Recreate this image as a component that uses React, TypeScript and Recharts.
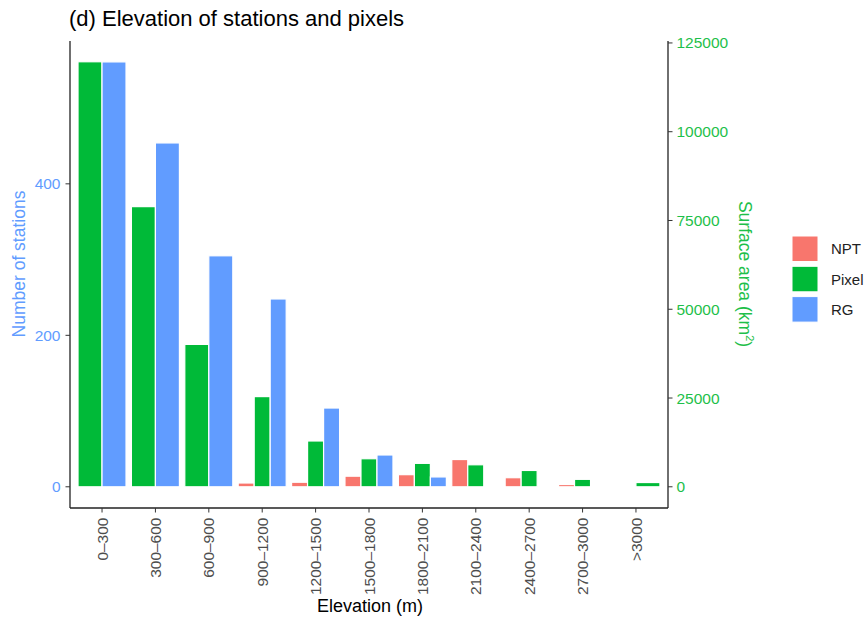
import React from 'react';
import { BarChart, Bar, XAxis, YAxis } from 'recharts';

const categories = [
  '0–300', '300–600', '600–900', '900–1200', '1200–1500', '1500–1800',
  '1800–2100', '2100–2400', '2400–2700', '2700–3000', '>3000',
];
// number of stations (left axis); null = group absent in that elevation band
const nptStations = [null, null, null, 5, 6, 14, 16, 36, 12, 3, 0];
const rgStations = [561, 454, 305, 248, 104, 42, 13, 0, 0, 0, null];
// surface area of pixels in km2 (right axis)
const pixelArea = [119700, 78900, 40100, 25400, 12900, 7900, 6600, 6200, 4600, 2100, 1200];

const stationTicks = [0, 200, 400];
const areaTicks = [0, 25000, 50000, 75000, 100000, 125000];
const stationDomain = [-28, 588.6];
const areaDomain = [-28 * 213.3, 588.6 * 213.3];

const seriesKeys = ['NPT', 'Pixel', 'RG'];
const colors: Record<string, string> = { NPT: '#F8766D', Pixel: '#00BA38', RG: '#619CFF' };
const font = '"Liberation Sans", Arial, Helvetica, sans-serif';

const data = categories.map((cat, i) => ({
  cat,
  NPT: nptStations[i],
  Pixel: pixelArea[i],
  RG: rgStations[i],
}));

// ggplot style dodge: the bars present in a band share its whole width
const dodgeShape = (idx: number) => (props: any) => {
  const { x, y, width, height, payload } = props;
  const present = seriesKeys.filter((k) => payload[k] !== null && payload[k] !== undefined);
  const n = present.length;
  const j = present.indexOf(seriesKeys[idx]);
  const left = x - idx * width;
  const w = (width * 3) / n;
  return (
    <rect
      x={left + j * w}
      y={y}
      width={w}
      height={Math.max(height, 0)}
      fill={colors[seriesKeys[idx]]}
      stroke="#fff"
      strokeWidth={1.2}
    />
  );
};

const ElevTick = (props: any) => {
  const { x, y, payload } = props;
  return (
    <text
      x={x}
      y={y}
      transform={`rotate(-90 ${x} ${y})`}
      textAnchor="end"
      dy="0.36em"
      fontSize={15.5}
      fill="#4D4D4D"
      fontFamily={font}
    >
      {payload.value}
    </text>
  );
};

export default function App() {
  return (
    <div style={{ position: 'absolute', left: 0, top: 0, width: 864, height: 619, background: '#fff' }}>
      <BarChart
        width={864}
        height={619}
        data={data}
        margin={{ top: 41, right: 0, bottom: 0, left: 0 }}
        barCategoryGap="5%"
        barGap={0}
      >
        <XAxis
          dataKey="cat"
          height={111}
          interval={0}
          padding={{ left: 5.35, right: 5.35 }}
          tick={<ElevTick />}
          tickSize={4.5}
          tickMargin={5}
          tickLine={{ stroke: '#333' }}
          axisLine={{ stroke: '#222', strokeWidth: 1.3 }}
        />
        <YAxis
          yAxisId="left"
          orientation="left"
          width={70}
          domain={stationDomain}
          ticks={stationTicks}
          tick={{ fill: '#619CFF', fontSize: 15.5, fontFamily: font }}
          tickSize={4.5}
          tickMargin={5}
          tickLine={{ stroke: '#333' }}
          axisLine={{ stroke: '#222', strokeWidth: 1.3 }}
        />
        <YAxis
          yAxisId="right"
          orientation="right"
          width={196}
          domain={areaDomain}
          ticks={areaTicks}
          tick={{ fill: '#1EBF4A', fontSize: 15.5, fontFamily: font, textAnchor: 'start' }}
          tickSize={4.5}
          tickMargin={4}
          tickLine={{ stroke: '#333' }}
          axisLine={{ stroke: '#222', strokeWidth: 1.3 }}
        />
        <Bar yAxisId="left" dataKey="NPT" fill={colors.NPT} shape={dodgeShape(0)} isAnimationActive={false} />
        <Bar yAxisId="right" dataKey="Pixel" fill={colors.Pixel} shape={dodgeShape(1)} isAnimationActive={false} />
        <Bar yAxisId="left" dataKey="RG" fill={colors.RG} shape={dodgeShape(2)} isAnimationActive={false} />
      </BarChart>
      <svg
        width={864}
        height={619}
        style={{ position: 'absolute', left: 0, top: 0, pointerEvents: 'none' }}
        fontFamily={font}
      >
        <text x={69} y={26} fontSize={22} fill="#000">(d) Elevation of stations and pixels</text>
        <text x={19} y={264} transform="rotate(-90 19 264)" textAnchor="middle" dy="0.35em" fontSize={17.5} fill="#619CFF">
          Number of stations
        </text>
        <text x={745} y={274} transform="rotate(90 745 274)" textAnchor="middle" dy="0.35em" fontSize={17.5} fill="#1EBF4A">
          Surface area (km<tspan fontSize={11} dy={-7}>2</tspan><tspan dy={7}>)</tspan>
        </text>
        <text x={370} y={612} textAnchor="middle" fontSize={18} fill="#000">Elevation (m)</text>
        {seriesKeys.map((k, i) => (
          <g key={k}>
            <rect x={792} y={236 + i * 30.3} width={26} height={25.5} fill={colors[k]} stroke="#fff" strokeWidth={1} />
            <text x={831} y={249 + i * 30.3} dy="0.35em" fontSize={15} fill="#222">{k}</text>
          </g>
        ))}
      </svg>
    </div>
  );
}
